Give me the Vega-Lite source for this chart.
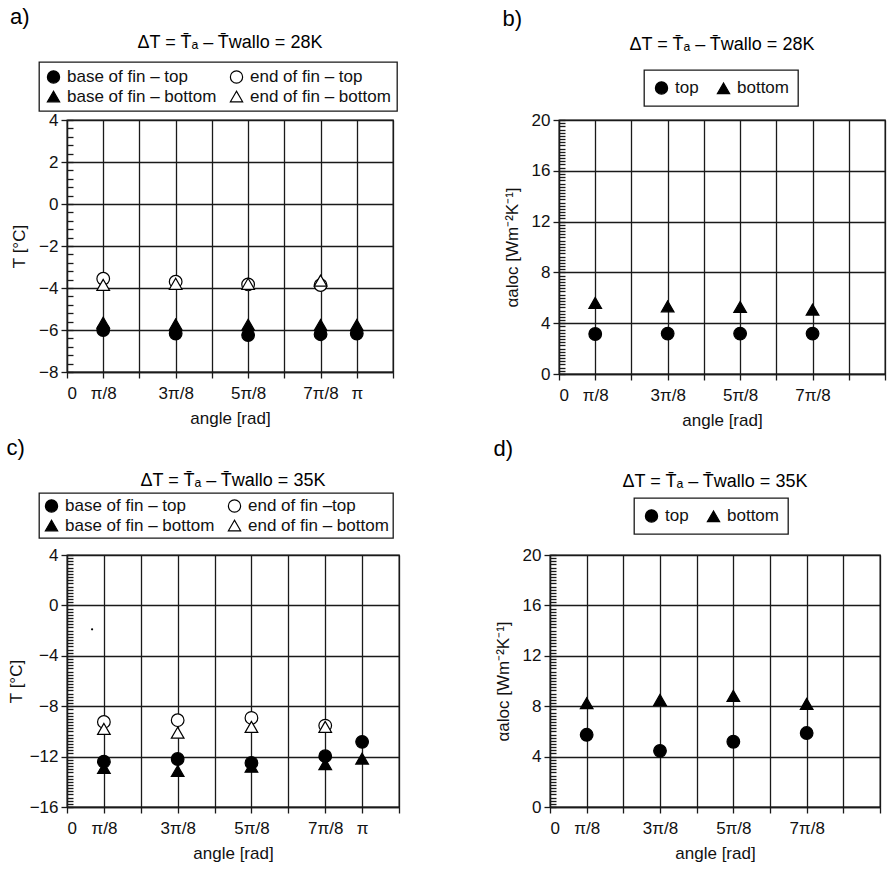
{
  "$schema": "https://vega.github.io/schema/vega-lite/v6.json",
  "padding": {"left": 6, "top": 6, "right": 0, "bottom": 0},
  "background": "white",
  "config": {
    "font": "Liberation Sans",
    "view": {"stroke": "#1a1a1a", "strokeWidth": 1.3},
    "title": {"fontWeight": "normal", "color": "black", "font": "Liberation Sans"},
    "axis": {
      "labelFont": "Liberation Sans", "titleFont": "Liberation Sans",
      "labelFontSize": 17, "titleFontSize": 17, "labelColor": "#111", "titleColor": "#111",
      "titleFontWeight": "normal", "domainColor": "#1a1a1a", "domainWidth": 1.3,
      "tickColor": "#1a1a1a", "tickWidth": 1.3, "gridColor": "#1a1a1a", "gridWidth": 1.3, "gridOpacity": 1
    },
    "legend": {
      "strokeColor": "#1a1a1a", "strokeWidth": 1.3, "padding": 6, "labelFontSize": 17, "labelColor": "#111",
      "labelFont": "Liberation Sans", "symbolSize": 150, "symbolStrokeWidth": 1.2,
      "rowPadding": 1, "columnPadding": 10, "labelLimit": 400, "labelOffset": 5, "fillColor": "white"
    }
  },
  "datasets": {
    "a": [
      {"x": 1, "v": -6.0, "s": "base of fin – top"}, {"x": 1, "v": -5.65, "s": "base of fin – bottom"}, {"x": 1, "v": -3.56, "s": "end of fin – top"}, {"x": 1, "v": -3.85, "s": "end of fin – bottom"},
      {"x": 3, "v": -6.17, "s": "base of fin – top"}, {"x": 3, "v": -5.73, "s": "base of fin – bottom"}, {"x": 3, "v": -3.7, "s": "end of fin – top"}, {"x": 3, "v": -3.8, "s": "end of fin – bottom"},
      {"x": 5, "v": -6.24, "s": "base of fin – top"}, {"x": 5, "v": -5.75, "s": "base of fin – bottom"}, {"x": 5, "v": -3.83, "s": "end of fin – top"}, {"x": 5, "v": -3.8, "s": "end of fin – bottom"},
      {"x": 7, "v": -6.2, "s": "base of fin – top"}, {"x": 7, "v": -5.76, "s": "base of fin – bottom"}, {"x": 7, "v": -3.86, "s": "end of fin – top"}, {"x": 7, "v": -3.65, "s": "end of fin – bottom"},
      {"x": 8, "v": -6.17, "s": "base of fin – top"}, {"x": 8, "v": -5.76, "s": "base of fin – bottom"}
    ],
    "b": [
      {"x": 1, "v": 3.15, "s": "top"}, {"x": 1, "v": 5.6, "s": "bottom"},
      {"x": 3, "v": 3.18, "s": "top"}, {"x": 3, "v": 5.33, "s": "bottom"},
      {"x": 5, "v": 3.18, "s": "top"}, {"x": 5, "v": 5.28, "s": "bottom"},
      {"x": 7, "v": 3.18, "s": "top"}, {"x": 7, "v": 5.07, "s": "bottom"}
    ],
    "c": [
      {"x": 1, "v": -12.4, "s": "base of fin – top"}, {"x": 1, "v": -12.9, "s": "base of fin – bottom"}, {"x": 1, "v": -9.25, "s": "end of fin –top"}, {"x": 1, "v": -9.8, "s": "end of fin – bottom"},
      {"x": 3, "v": -12.19, "s": "base of fin – top"}, {"x": 3, "v": -13.14, "s": "base of fin – bottom"}, {"x": 3, "v": -9.11, "s": "end of fin –top"}, {"x": 3, "v": -10.1, "s": "end of fin – bottom"},
      {"x": 5, "v": -12.5, "s": "base of fin – top"}, {"x": 5, "v": -12.8, "s": "base of fin – bottom"}, {"x": 5, "v": -8.93, "s": "end of fin –top"}, {"x": 5, "v": -9.64, "s": "end of fin – bottom"},
      {"x": 7, "v": -11.97, "s": "base of fin – top"}, {"x": 7, "v": -12.6, "s": "base of fin – bottom"}, {"x": 7, "v": -9.54, "s": "end of fin –top"}, {"x": 7, "v": -9.64, "s": "end of fin – bottom"},
      {"x": 8, "v": -10.83, "s": "base of fin – top"}, {"x": 8, "v": -12.16, "s": "base of fin – bottom"}
    ],
    "cdot": [{"x": 0.68, "v": -1.9}],
    "d": [
      {"x": 1, "v": 5.73, "s": "top"}, {"x": 1, "v": 8.24, "s": "bottom"},
      {"x": 3, "v": 4.46, "s": "top"}, {"x": 3, "v": 8.5, "s": "bottom"},
      {"x": 5, "v": 5.18, "s": "top"}, {"x": 5, "v": 8.82, "s": "bottom"},
      {"x": 7, "v": 5.87, "s": "top"}, {"x": 7, "v": 8.19, "s": "bottom"}
    ]
  },
  "spacing": 8,
  "resolve": {"scale": {"shape": "independent", "fill": "independent", "stroke": "independent"}},
  "vconcat": [
    {
      "spacing": 104,
      "resolve": {"scale": {"shape": "independent", "fill": "independent", "stroke": "independent"}},
      "hconcat": [
        {
          "title": {"text": "a)", "anchor": "start", "fontSize": 22, "offset": 4},
          "vconcat": [
            {
              "title": {"text": "ΔT = T̄ₐ – T̄wallo  = 28K", "fontSize": 18, "anchor": "middle", "frame": "group", "offset": 59},
              "width": 326, "height": 252,
              "data": {"name": "a"},
              "resolve": {"axis": {"y": "independent"}},
              "encoding": {
                "x": {"field": "x", "type": "quantitative", "scale": {"domain": [0, 9], "nice": false},
                  "axis": {"values": [0, 1, 2, 3, 4, 5, 6, 7, 8, 9], "grid": true, "tickSize": 6, "labelPadding": 7, "labelOverlap": false, "title": "angle [rad]", "titlePadding": 9,
                    "labelExpr": "datum.value == 0 ? '0' : datum.value == 1 ? 'π/8' : datum.value == 3 ? '3π/8' : datum.value == 5 ? '5π/8' : datum.value == 7 ? '7π/8' : datum.value == 8 ? 'π' : ''"}}
              },
              "layer": [
                {
                  "mark": {"type": "point", "filled": true, "opacity": 0},
                  "encoding": {"y": {"field": "v", "type": "quantitative", "scale": {"domain": [-8, 4], "nice": false, "zero": false},
                    "axis": {"orient": "left", "values": [-8, -7.6, -7.2, -6.8, -6.4, -6, -5.6, -5.2, -4.8, -4.4, -4, -3.6, -3.2, -2.8, -2.4, -2, -1.6, -1.2, -0.8, -0.4, 0, 0.4, 0.8, 1.2, 1.6, 2, 2.4, 2.8, 3.2, 3.6, 4], "labels": false, "domain": false, "grid": false, "tickSize": -6, "title": null}}}
                },
                {
                  "mark": {"type": "point", "filled": true, "strokeWidth": 1.2, "size": 160, "opacity": 1},
                  "encoding": {
                    "y": {"field": "v", "type": "quantitative", "axis": {"orient": "left", "values": [-8, -6, -4, -2, 0, 2, 4], "grid": true, "tickSize": 6, "title": "T [°C]", "titlePadding": 10, "labelPadding": 3}},
                    "shape": {"field": "s", "type": "nominal", "scale": {"domain": ["base of fin – top", "end of fin – top", "base of fin – bottom", "end of fin – bottom"], "range": ["circle", "circle", "triangle-up", "triangle-up"]},
                      "legend": {"title": null, "orient": "none", "legendX": -28, "legendY": -58, "direction": "horizontal", "columns": 2}},
                    "fill": {"field": "s", "type": "nominal", "scale": {"domain": ["base of fin – top", "end of fin – top", "base of fin – bottom", "end of fin – bottom"], "range": ["black", "white", "black", "white"]},
                      "legend": {"title": null, "orient": "none", "legendX": -28, "legendY": -58, "direction": "horizontal", "columns": 2}},
                    "stroke": {"field": "s", "type": "nominal", "scale": {"domain": ["base of fin – top", "end of fin – top", "base of fin – bottom", "end of fin – bottom"], "range": ["black", "black", "black", "black"]},
                      "legend": {"title": null, "orient": "none", "legendX": -28, "legendY": -58, "direction": "horizontal", "columns": 2}}
                  }
                }
              ]
            }
          ]
        },
        {
          "title": {"text": "b)", "anchor": "start", "fontSize": 22, "offset": 4},
          "vconcat": [
            {
              "title": {"text": "ΔT = T̄ₐ – T̄wallo  = 28K", "fontSize": 18, "anchor": "middle", "frame": "group", "offset": 57},
              "width": 326, "height": 254,
              "data": {"name": "b"},
              "resolve": {"axis": {"y": "independent"}},
              "encoding": {
                "x": {"field": "x", "type": "quantitative", "scale": {"domain": [0, 9], "nice": false},
                  "axis": {"values": [0, 1, 2, 3, 4, 5, 6, 7, 8, 9], "grid": true, "tickSize": 6, "labelPadding": 7, "labelOverlap": false, "title": "angle [rad]", "titlePadding": 9,
                    "labelExpr": "datum.value == 0 ? '0' : datum.value == 1 ? 'π/8' : datum.value == 3 ? '3π/8' : datum.value == 5 ? '5π/8' : datum.value == 7 ? '7π/8' : ''"}}
              },
              "layer": [
                {
                  "mark": {"type": "point", "filled": true, "opacity": 0},
                  "encoding": {"y": {"field": "v", "type": "quantitative", "scale": {"domain": [0, 20], "nice": false, "zero": false},
                    "axis": {"orient": "left", "values": [0, 0.25, 0.5, 0.75, 1, 1.25, 1.5, 1.75, 2, 2.25, 2.5, 2.75, 3, 3.25, 3.5, 3.75, 4, 4.25, 4.5, 4.75, 5, 5.25, 5.5, 5.75, 6, 6.25, 6.5, 6.75, 7, 7.25, 7.5, 7.75, 8, 8.25, 8.5, 8.75, 9, 9.25, 9.5, 9.75, 10, 10.25, 10.5, 10.75, 11, 11.25, 11.5, 11.75, 12, 12.25, 12.5, 12.75, 13, 13.25, 13.5, 13.75, 14, 14.25, 14.5, 14.75, 15, 15.25, 15.5, 15.75, 16, 16.25, 16.5, 16.75, 17, 17.25, 17.5, 17.75, 18, 18.25, 18.5, 18.75, 19, 19.25, 19.5, 19.75, 20], "labels": false, "domain": false, "grid": false, "tickSize": -6, "title": null}}}
                },
                {
                  "mark": {"type": "point", "filled": true, "stroke": "black", "strokeWidth": 1.2, "size": 160, "opacity": 1},
                  "encoding": {
                    "y": {"field": "v", "type": "quantitative", "axis": {"orient": "left", "values": [0, 4, 8, 12, 16, 20], "grid": true, "tickSize": 6, "title": "αaloc [Wm⁻²K⁻¹]", "titlePadding": 10, "labelPadding": 3}},
                    "shape": {"field": "s", "type": "nominal", "scale": {"domain": ["top", "bottom"], "range": ["circle", "triangle-up"]},
                      "legend": {"title": null, "orient": "none", "legendX": 85, "legendY": -50, "direction": "horizontal", "padding": 9, "columnPadding": 15}},
                    "fill": {"field": "s", "type": "nominal", "scale": {"domain": ["top", "bottom"], "range": ["black", "black"]},
                      "legend": {"title": null, "orient": "none", "legendX": 85, "legendY": -50, "direction": "horizontal", "padding": 9, "columnPadding": 15}}
                  }
                }
              ]
            }
          ]
        }
      ]
    },
    {
      "spacing": 92,
      "resolve": {"scale": {"shape": "independent", "fill": "independent", "stroke": "independent"}},
      "hconcat": [
        {
          "title": {"text": "c)", "anchor": "start", "fontSize": 22, "offset": 11},
          "vconcat": [
            {
              "title": {"text": "ΔT = T̄ₐ – T̄wallo  = 35K", "fontSize": 18, "anchor": "middle", "frame": "group", "offset": 56},
              "width": 332, "height": 252,
              "resolve": {"axis": {"y": "independent"}},
              "encoding": {
                "x": {"field": "x", "type": "quantitative", "scale": {"domain": [0, 9], "nice": false},
                  "axis": {"values": [0, 1, 2, 3, 4, 5, 6, 7, 8, 9], "grid": true, "tickSize": 6, "labelPadding": 7, "labelOverlap": false, "title": "angle [rad]", "titlePadding": 9,
                    "labelExpr": "datum.value == 0 ? '0' : datum.value == 1 ? 'π/8' : datum.value == 3 ? '3π/8' : datum.value == 5 ? '5π/8' : datum.value == 7 ? '7π/8' : datum.value == 8 ? 'π' : ''"}}
              },
              "layer": [
                {
                  "data": {"name": "c"},
                  "mark": {"type": "point", "filled": true, "opacity": 0},
                  "encoding": {"y": {"field": "v", "type": "quantitative", "scale": {"domain": [-16, 4], "nice": false, "zero": false},
                    "axis": {"orient": "left", "values": [-16, -15.75, -15.5, -15.25, -15, -14.75, -14.5, -14.25, -14, -13.75, -13.5, -13.25, -13, -12.75, -12.5, -12.25, -12, -11.75, -11.5, -11.25, -11, -10.75, -10.5, -10.25, -10, -9.75, -9.5, -9.25, -9, -8.75, -8.5, -8.25, -8, -7.75, -7.5, -7.25, -7, -6.75, -6.5, -6.25, -6, -5.75, -5.5, -5.25, -5, -4.75, -4.5, -4.25, -4, -3.75, -3.5, -3.25, -3, -2.75, -2.5, -2.25, -2, -1.75, -1.5, -1.25, -1, -0.75, -0.5, -0.25, 0, 0.25, 0.5, 0.75, 1, 1.25, 1.5, 1.75, 2, 2.25, 2.5, 2.75, 3, 3.25, 3.5, 3.75, 4], "labels": false, "domain": false, "grid": false, "tickSize": -6, "title": null}}}
                },
                {
                  "data": {"name": "cdot"},
                  "mark": {"type": "circle", "size": 5, "color": "black", "opacity": 1},
                  "encoding": {"y": {"field": "v", "type": "quantitative", "axis": null}}
                },
                {
                  "data": {"name": "c"},
                  "mark": {"type": "point", "filled": true, "strokeWidth": 1.2, "size": 160, "opacity": 1},
                  "encoding": {
                    "y": {"field": "v", "type": "quantitative", "axis": {"orient": "left", "values": [-16, -12, -8, -4, 0, 4], "grid": true, "tickSize": 6, "title": "T [°C]", "titlePadding": 4, "labelPadding": 3}},
                    "shape": {"field": "s", "type": "nominal", "scale": {"domain": ["base of fin – top", "end of fin –top", "base of fin – bottom", "end of fin – bottom"], "range": ["circle", "circle", "triangle-up", "triangle-up"]},
                      "legend": {"title": null, "orient": "none", "legendX": -28, "legendY": -62, "direction": "horizontal", "columns": 2, "padding": 4}},
                    "fill": {"field": "s", "type": "nominal", "scale": {"domain": ["base of fin – top", "end of fin –top", "base of fin – bottom", "end of fin – bottom"], "range": ["black", "white", "black", "white"]},
                      "legend": {"title": null, "orient": "none", "legendX": -28, "legendY": -62, "direction": "horizontal", "columns": 2, "padding": 4}},
                    "stroke": {"field": "s", "type": "nominal", "scale": {"domain": ["base of fin – top", "end of fin –top", "base of fin – bottom", "end of fin – bottom"], "range": ["black", "black", "black", "black"]},
                      "legend": {"title": null, "orient": "none", "legendX": -28, "legendY": -62, "direction": "horizontal", "columns": 2, "padding": 4}}
                  }
                }
              ]
            }
          ]
        },
        {
          "title": {"text": "d)", "anchor": "start", "fontSize": 22, "offset": 11},
          "vconcat": [
            {
              "title": {"text": "ΔT = T̄ₐ – T̄wallo  = 35K", "fontSize": 18, "anchor": "middle", "frame": "group", "offset": 55},
              "width": 330, "height": 252,
              "data": {"name": "d"},
              "resolve": {"axis": {"y": "independent"}},
              "encoding": {
                "x": {"field": "x", "type": "quantitative", "scale": {"domain": [0, 9], "nice": false},
                  "axis": {"values": [0, 1, 2, 3, 4, 5, 6, 7, 8, 9], "grid": true, "tickSize": 6, "labelPadding": 7, "labelOverlap": false, "title": "angle [rad]", "titlePadding": 9,
                    "labelExpr": "datum.value == 0 ? '0' : datum.value == 1 ? 'π/8' : datum.value == 3 ? '3π/8' : datum.value == 5 ? '5π/8' : datum.value == 7 ? '7π/8' : ''"}}
              },
              "layer": [
                {
                  "mark": {"type": "point", "filled": true, "opacity": 0},
                  "encoding": {"y": {"field": "v", "type": "quantitative", "scale": {"domain": [0, 20], "nice": false, "zero": false},
                    "axis": {"orient": "left", "values": [0, 0.25, 0.5, 0.75, 1, 1.25, 1.5, 1.75, 2, 2.25, 2.5, 2.75, 3, 3.25, 3.5, 3.75, 4, 4.25, 4.5, 4.75, 5, 5.25, 5.5, 5.75, 6, 6.25, 6.5, 6.75, 7, 7.25, 7.5, 7.75, 8, 8.25, 8.5, 8.75, 9, 9.25, 9.5, 9.75, 10, 10.25, 10.5, 10.75, 11, 11.25, 11.5, 11.75, 12, 12.25, 12.5, 12.75, 13, 13.25, 13.5, 13.75, 14, 14.25, 14.5, 14.75, 15, 15.25, 15.5, 15.75, 16, 16.25, 16.5, 16.75, 17, 17.25, 17.5, 17.75, 18, 18.25, 18.5, 18.75, 19, 19.25, 19.5, 19.75, 20], "labels": false, "domain": false, "grid": false, "tickSize": -6, "title": null}}}
                },
                {
                  "mark": {"type": "point", "filled": true, "stroke": "black", "strokeWidth": 1.2, "size": 160, "opacity": 1},
                  "encoding": {
                    "y": {"field": "v", "type": "quantitative", "axis": {"orient": "left", "values": [0, 4, 8, 12, 16, 20], "grid": true, "tickSize": 6, "title": "αaloc [Wm⁻²K⁻¹]", "titlePadding": 10, "labelPadding": 3}},
                    "shape": {"field": "s", "type": "nominal", "scale": {"domain": ["top", "bottom"], "range": ["circle", "triangle-up"]},
                      "legend": {"title": null, "orient": "none", "legendX": 84, "legendY": -57, "direction": "horizontal", "padding": 9, "columnPadding": 15}},
                    "fill": {"field": "s", "type": "nominal", "scale": {"domain": ["top", "bottom"], "range": ["black", "black"]},
                      "legend": {"title": null, "orient": "none", "legendX": 84, "legendY": -57, "direction": "horizontal", "padding": 9, "columnPadding": 15}}
                  }
                }
              ]
            }
          ]
        }
      ]
    }
  ]
}
